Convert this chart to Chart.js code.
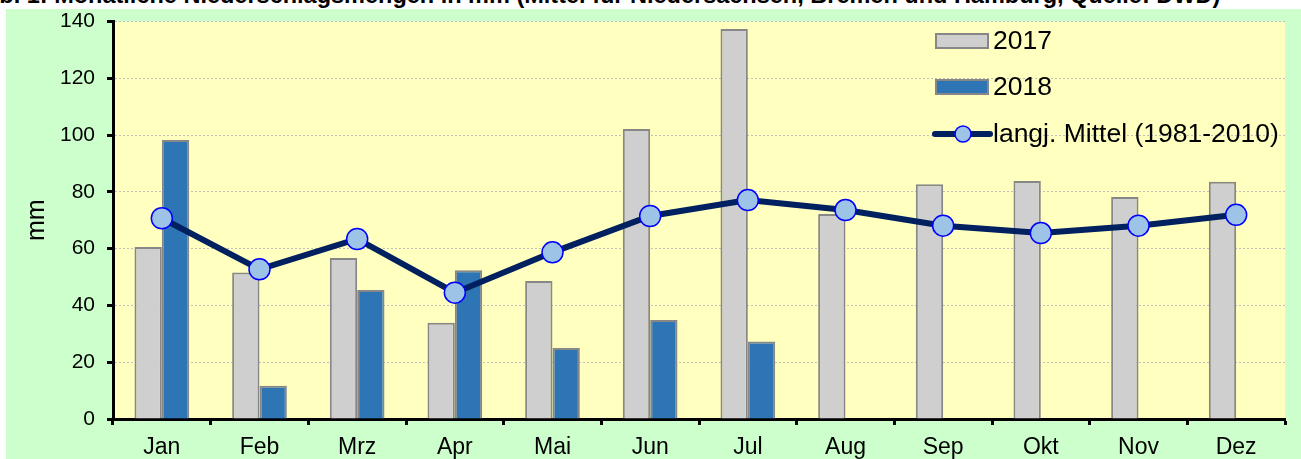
<!DOCTYPE html>
<html>
<head>
<meta charset="utf-8">
<script src="https://cdn.jsdelivr.net/npm/chart.js@4/dist/chart.umd.min.js"></script>
<style>
  body { margin: 0; background: #fff; width: 1301px; height: 459px; overflow: hidden; position: relative; }
  #titleBox { position: absolute; left: 0; top: 0; width: 1301px; height: 9px; overflow: hidden; }
  #title { position: absolute; left: -32px; top: -16px; white-space: nowrap;
           font: bold 23.5px "Liberation Sans", Arial, sans-serif; line-height: 1; color: #000; }
  #box { position: absolute; left: 6px; top: 9px; width: 1295px; height: 450px; background: #CCFFCC; }
</style>
</head>
<body>
<div id="titleBox"><div id="title">Abb. 1: Monatliche Niederschlagsmengen in mm (Mittel für Niedersachsen, Bremen und Hamburg, Quelle: DWD)</div></div>
<div id="box"><canvas id="chart"></canvas></div>
<script>
const months = ["Jan", "Feb", "Mrz", "Apr", "Mai", "Jun", "Jul", "Aug", "Sep", "Okt", "Nov", "Dez"]

const rain2017 = [60.6, 51.6, 56.7, 33.9, 48.6, 102.1, 137.4, 72.2, 82.7, 83.8, 78.2, 83.6]
const rain2018 = [98.3, 11.7, 45.4, 52.4, 25.0, 34.9, 27.3, null, null, null, null, null]
const mean8110 = [70.7, 52.7, 63.4, 44.5, 58.7, 71.5, 77.1, 73.6, 68.1, 65.5, 68.1, 71.9]

const legendNames = ["2017", "2018", "langj. Mittel (1981-2010)"]

const FONT = "Liberation Sans"

// yellow plot area
const plotBg = {
       id: "plotBg",
       beforeDraw(chart) {
              const a = chart.chartArea
              const ctx = chart.ctx
              ctx.save()
              ctx.fillStyle = "#FFFFC0"
              ctx.fillRect(a.left, a.top, a.right - a.left, a.bottom - a.top)
              ctx.restore()
       }
}

// legend in the upper right of the plot
const boxLegend = {
       id: "boxLegend",
       afterDraw(chart) {
              const ctx = chart.ctx
              const ds = chart.data.datasets
              const x0 = 930
              const rows = [32, 78, 125]
              ctx.save()
              ctx.font = "26.5px " + FONT
              ctx.textBaseline = "middle"
              ctx.fillStyle = "#000"

              // bars
              const bars = [ds[1], ds[2]]
              bars.forEach((d, i) => {
                     ctx.fillStyle = d.backgroundColor
                     ctx.fillRect(x0, rows[i] - 7, 52, 14)
                     ctx.strokeStyle = d.borderColor
                     ctx.lineWidth = 2
                     ctx.strokeRect(x0, rows[i] - 7, 52, 14)
                     ctx.fillStyle = "#000"
                     ctx.fillText(legendNames[i], x0 + 57, rows[i] + 1)
              })

              // line
              const l = ds[0]
              ctx.strokeStyle = l.borderColor
              ctx.lineWidth = l.borderWidth
              ctx.lineCap = "round"
              ctx.beginPath()
              ctx.moveTo(x0 - 1, rows[2])
              ctx.lineTo(x0 + 54, rows[2])
              ctx.stroke()
              ctx.beginPath()
              ctx.arc(x0 + 27, rows[2], 8, 0, Math.PI * 2)
              ctx.fillStyle = l.pointBackgroundColor
              ctx.fill()
              ctx.lineWidth = l.pointBorderWidth
              ctx.strokeStyle = l.pointBorderColor
              ctx.stroke()
              ctx.fillStyle = "#000"
              ctx.fillText(legendNames[2], x0 + 57, rows[2] + 1)
              ctx.restore()
       }
}

new Chart(document.getElementById("chart"), {
       type: "bar",
       data: {
              labels: months,
              datasets: [
                     {
                            type: "line",
                            label: legendNames[2],
                            data: mean8110,
                            borderColor: "#002060",
                            borderWidth: 6,
                            pointRadius: 10.5,
                            pointBackgroundColor: "#9DC3E6",
                            pointBorderColor: "#0000FF",
                            pointBorderWidth: 1.5,
                            tension: 0,
                            order: 0
                     },
                     {
                            label: legendNames[0],
                            data: rain2017,
                            backgroundColor: "#D0CFD0",
                            borderColor: "#878787",
                            borderWidth: 2,
                            categoryPercentage: 0.56,
                            barPercentage: 1,
                            order: 1
                     },
                     {
                            label: legendNames[1],
                            data: rain2018,
                            backgroundColor: "#2E75B6",
                            borderColor: "#878787",
                            borderWidth: 2,
                            categoryPercentage: 0.56,
                            barPercentage: 1,
                            order: 1
                     }
              ]
       },
       options: {
              responsive: true,
              maintainAspectRatio: false,
              animation: false,
              layout: { padding: { top: 12.5, right: 16, left: 0, bottom: 0 } },
              plugins: {
                     legend: { display: false },
                     tooltip: { enabled: false }
              },
              scales: {
                     x: {
                            afterFit: s => { s.height = 40; s.paddingLeft = 0; s.paddingRight = 0 },
                            grid: {
                                   offset: true,
                                   drawOnChartArea: false,
                                   drawTicks: true,
                                   tickLength: 6,
                                   tickColor: "#000",
                                   tickWidth: 3
                            },
                            border: { color: "#000", width: 3 },
                            ticks: {
                                   color: "#000",
                                   padding: 9,
                                   font: { family: FONT, size: 23 }
                            }
                     },
                     y: {
                            min: 0,
                            max: 140,
                            afterFit: s => { s.width = 107; s.paddingTop = 0; s.paddingBottom = 0 },
                            grid: {
                                   color: "#BFBFBF",
                                   lineWidth: 1,
                                   tickLength: 6,
                                   tickColor: "#000",
                                   tickWidth: 3,
                                   tickBorderDash: []
                            },
                            border: { color: "#000", width: 3, dash: [2, 2] },
                            ticks: {
                                   stepSize: 20,
                                   color: "#000",
                                   padding: 12,
                                   font: { family: FONT, size: 21 }
                            },
                            title: {
                                   display: true,
                                   text: "mm",
                                   color: "#000",
                                   padding: { top: 16, bottom: 0 },
                                   font: { family: FONT, size: 25 }
                            }
                     }
              }
       },
       plugins: [plotBg, boxLegend]
})
</script>
</body>
</html>
